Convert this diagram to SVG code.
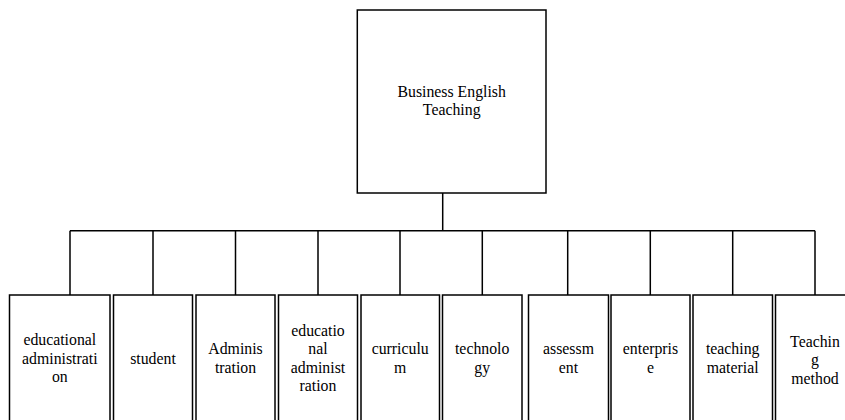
<svg xmlns="http://www.w3.org/2000/svg" width="845" height="420" viewBox="0 0 845 420">
<style>
.box{fill:#fff;stroke:#000;stroke-width:1.5}
.ln{fill:none;stroke:#000;stroke-width:1.5}
text{font-family:'Liberation Serif','Times New Roman',serif;font-size:15.8px;fill:#000;text-anchor:middle}
</style>
<rect width="845" height="420" fill="#fff"/>
<g id="connectors">
<path class="ln" d="M442.7 193V230.7M70 230.7H815M70 230.7V295M153 230.7V295M235.5 230.7V295M318 230.7V295M400 230.7V295M482.3 230.7V295M567.7 230.7V295M650.3 230.7V295M732.7 230.7V295M815 230.7V295"/>
</g>
<g id="root">
<rect class="box" x="357.3" y="10" width="188.7" height="183"/>
<text x="451.7" y="96.7">Business English</text>
<text x="451.7" y="115.2">Teaching</text>
</g>
<g id="n1">
<rect class="box" x="9.5" y="295" width="100.5" height="140"/>
<text x="59.8" y="345">educational</text>
<text x="59.8" y="363.5">administrati</text>
<text x="59.8" y="382">on</text>
</g>
<g id="n2">
<rect class="box" x="113.5" y="295" width="79" height="140"/>
<text x="153" y="363.5">student</text>
</g>
<g id="n3">
<rect class="box" x="196" y="295" width="79" height="140"/>
<text x="235.5" y="354.3">Adminis</text>
<text x="235.5" y="372.8">tration</text>
</g>
<g id="n4">
<rect class="box" x="278.5" y="295" width="79" height="140"/>
<text x="318" y="335.5">educatio</text>
<text x="318" y="354">nal</text>
<text x="318" y="372.5">administ</text>
<text x="318" y="391">ration</text>
</g>
<g id="n5">
<rect class="box" x="361" y="295" width="78.5" height="140"/>
<text x="400.2" y="354.3">curriculu</text>
<text x="400.2" y="372.8">m</text>
</g>
<g id="n6">
<rect class="box" x="442.5" y="295" width="79.5" height="140"/>
<text x="482.2" y="354.3">technolo</text>
<text x="482.2" y="372.8">gy</text>
</g>
<g id="n7">
<rect class="box" x="528.5" y="295" width="80" height="140"/>
<text x="568.5" y="354.3">assessm</text>
<text x="568.5" y="372.8">ent</text>
</g>
<g id="n8">
<rect class="box" x="611" y="295" width="79" height="140"/>
<text x="650.5" y="354.3">enterpris</text>
<text x="650.5" y="372.8">e</text>
</g>
<g id="n9">
<rect class="box" x="693" y="295" width="79.5" height="140"/>
<text x="732.7" y="354.3">teaching</text>
<text x="732.7" y="372.8">material</text>
</g>
<g id="n10">
<rect class="box" x="775.5" y="295" width="80" height="140"/>
<text x="815" y="346.5">Teachin</text>
<text x="815" y="365">g</text>
<text x="815" y="383.5">method</text>
</g>
</svg>
